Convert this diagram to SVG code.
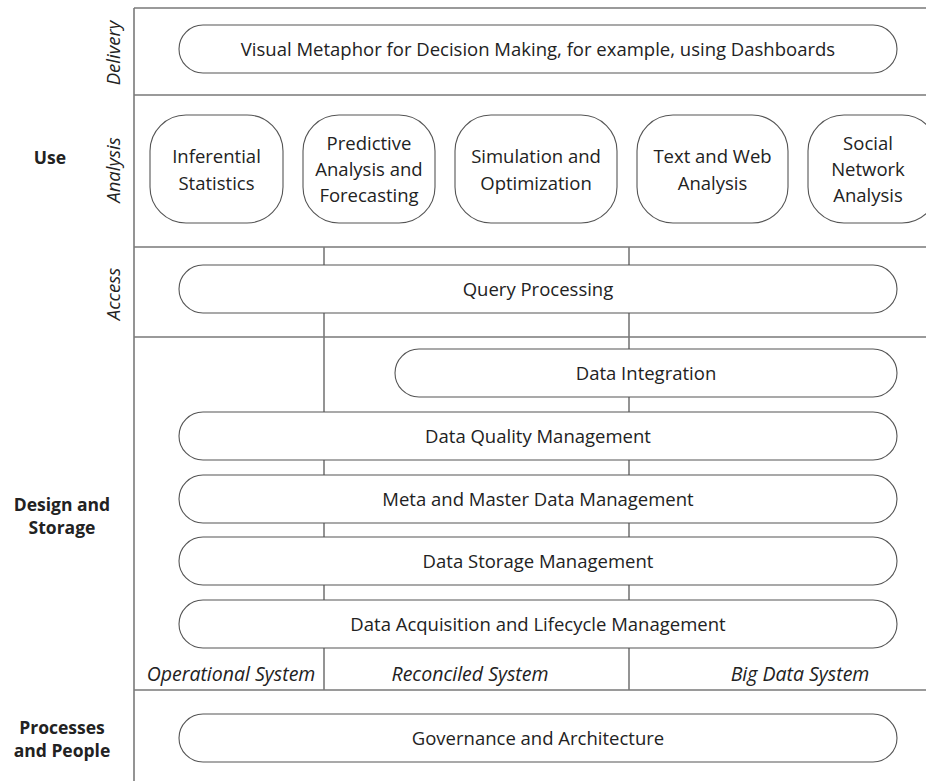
<svg xmlns="http://www.w3.org/2000/svg" width="926" height="781" viewBox="0 0 926 781">
<style>
.grid{stroke:#7a7a7a;stroke-width:1.6;fill:none}
.box{fill:#fff;stroke:#555;stroke-width:1.1}
.t{font-family:"Open Sans","Liberation Sans",sans-serif;font-size:18.5px;fill:#222;text-anchor:middle}
.it{font-family:"Open Sans","Liberation Sans",sans-serif;font-size:18.5px;fill:#222;font-style:italic;text-anchor:middle}
.sys{font-size:19.5px}
.b{font-family:"Open Sans","Liberation Sans",sans-serif;font-size:17.5px;font-weight:bold;fill:#222;text-anchor:middle}
</style>
<rect width="926" height="781" fill="#fff"/>
<g id="connectors">
<path class="grid" d="M134 8V781M134 8H926M134 95H926M134 247H926M134 337H926M134 690H926M324 247V690M629 247V690"/>
</g>
<g id="labels">
<text class="it" transform="translate(120 53) rotate(-90)">Delivery</text>
<text class="it" transform="translate(120 170) rotate(-90)">Analysis</text>
<text class="it" transform="translate(120 294) rotate(-90)">Access</text>
<text class="b" x="50" y="164">Use</text>
<text class="b" x="62" y="511">Design and</text>
<text class="b" x="62" y="534">Storage</text>
<text class="b" x="62" y="734">Processes</text>
<text class="b" x="62" y="757">and People</text>
<text class="it sys" x="231" y="681">Operational System</text>
<text class="it sys" x="470" y="681">Reconciled System</text>
<text class="it sys" x="800" y="681">Big Data System</text>
</g>
<g id="delivery"><rect class="box" x="179" y="25" width="718" height="48" rx="24"/><text class="t" x="538" y="56">Visual Metaphor for Decision Making, for example, using Dashboards</text></g>
<g id="inferential"><rect class="box" x="150" y="115" width="133" height="108" rx="36"/><text class="t" x="216.5" y="163">Inferential</text><text class="t" x="216.5" y="190">Statistics</text></g>
<g id="predictive"><rect class="box" x="303" y="115" width="132" height="108" rx="36"/><text class="t" x="369" y="150">Predictive</text><text class="t" x="369" y="176">Analysis and</text><text class="t" x="369" y="202">Forecasting</text></g>
<g id="simulation"><rect class="box" x="455" y="115" width="162" height="108" rx="36"/><text class="t" x="536" y="163">Simulation and</text><text class="t" x="536" y="190">Optimization</text></g>
<g id="textweb"><rect class="box" x="637" y="115" width="151" height="108" rx="36"/><text class="t" x="712.5" y="163">Text and Web</text><text class="t" x="712.5" y="190">Analysis</text></g>
<g id="social"><rect class="box" x="808" y="115" width="130" height="108" rx="36"/><text class="t" x="868" y="150">Social</text><text class="t" x="868" y="176">Network</text><text class="t" x="868" y="202">Analysis</text></g>
<g id="query"><rect class="box" x="179" y="265" width="718" height="48" rx="24"/><text class="t" x="538" y="296">Query Processing</text></g>
<g id="integration"><rect class="box" x="395" y="349" width="502" height="48" rx="24"/><text class="t" x="646" y="380">Data Integration</text></g>
<g id="quality"><rect class="box" x="179" y="412" width="718" height="48" rx="24"/><text class="t" x="538" y="443">Data Quality Management</text></g>
<g id="meta"><rect class="box" x="179" y="475" width="718" height="48" rx="24"/><text class="t" x="538" y="506">Meta and Master Data Management</text></g>
<g id="storage"><rect class="box" x="179" y="537" width="718" height="48" rx="24"/><text class="t" x="538" y="568">Data Storage Management</text></g>
<g id="acquisition"><rect class="box" x="179" y="600" width="718" height="48" rx="24"/><text class="t" x="538" y="631">Data Acquisition and Lifecycle Management</text></g>
<g id="governance"><rect class="box" x="179" y="714" width="718" height="48" rx="24"/><text class="t" x="538" y="745">Governance and Architecture</text></g>
</svg>
